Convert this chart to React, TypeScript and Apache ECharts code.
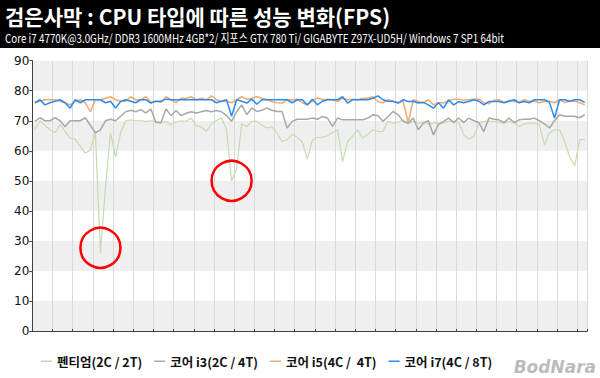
import React, { useEffect, useRef } from "react";
import * as echarts from "echarts";

const titleText = "검은사막 : CPU 타입에 따른 성능 변화(FPS)";
const subtitleText =
  "Core i7 4770K@3.0GHz/ DDR3 1600MHz 4GB*2/ 지포스 GTX 780 Ti/ GIGABYTE Z97X-UD5H/ Windows 7 SP1 64bit";

const seriesNames = ["펜티엄(2C / 2T)", "코어 i3(2C / 4T)", "코어 i5(4C /  4T)", "코어 i7(4C / 8T)"];
const seriesColors = ["#c6dcae", "#a8a8a8", "#f2aa6c", "#2a8cf2"];

const yTicks = [0, 10, 20, 30, 40, 50, 60, 70, 80, 90];

const pentium = [
  67, 70, 68.5, 67, 66, 68.7, 66.5, 64.2, 63.9, 61.5,
  59.2, 60.3, 66, 26, 48, 66, 58, 66, 70, 70.3,
  70, 70, 69.8, 70, 69.8, 69.2, 69.8, 68.7, 69.5, 70,
  69.8, 70.9, 68.3, 68, 66.5, 69, 70, 71, 67, 50,
  54, 69, 68, 69.8, 69.8, 68.5, 67.6, 68, 66, 63.1,
  63.7, 65.5, 64.5, 63, 57.3, 63.5, 64.5, 64.5, 65, 66,
  67, 56.4, 63.1, 65, 67, 64.2, 65.5, 67, 66.5, 66.4,
  69.8, 69.2, 69.5, 70.3, 69, 69.8, 69.2, 69.5, 69, 69.2,
  69.2, 69.2, 69.8, 69.8, 69.5, 65.3, 63.9, 64.8, 69.2, 69.8,
  69.8, 69.8, 69.5, 69.2, 69.8, 69.5, 68, 69, 69.2, 69.2,
  68.8, 62, 66, 67, 67, 63.1, 58, 55, 63.7, 63.7,
];

const coreI3 = [
  69.8, 71, 70, 70, 71, 70, 68, 70, 70, 70,
  71, 68.5, 66, 67, 70, 70.5, 70, 71.5, 73, 73.5,
  73, 73.7, 72.6, 73.9, 69.4, 69.4, 73.9, 71.7, 73.4, 71.7,
  72.5, 73, 72.6, 73, 73.4, 73, 73.4, 73, 71.7, 69.8,
  73, 75.3, 72, 74.2, 73.1, 73.5, 74.2, 73.5, 73.1, 73.1,
  67.6, 69.8, 70.5, 70.5, 70.5, 70.9, 70.5, 71.4, 70.9, 68.1,
  70.9, 70.3, 70.3, 70.3, 70.3, 70.3, 70.9, 72, 71.7, 69.8,
  71.4, 73.1, 72, 69.8, 69.2, 70.9, 67, 69.2, 70, 65.3,
  68.7, 69.8, 70.9, 69.4, 70.9, 69.4, 70.9, 70, 69.4, 66.4,
  70.9, 70.5, 70.3, 69.4, 70.9, 69.4, 70.3, 70.5, 70.5, 70.9,
  70, 69, 67.6, 70, 72, 71.5, 71.5, 71.5, 71, 72,
];

const coreI5 = [
  76, 76.5, 77, 77, 77, 76.5, 76, 75.3, 76.5, 77,
  76, 73, 77, 77, 77.5, 78, 77, 76.5, 76.5, 78,
  77, 77, 78, 76.1, 76.5, 76.1, 78, 77, 76, 77.5,
  77.5, 78, 77, 77.5, 77, 78.3, 77, 76.5, 76.4, 76,
  77, 78, 77.2, 77.5, 78, 77.5, 77, 76.4, 76, 75.9,
  77, 77, 77.2, 76, 75.3, 76.5, 77.6, 77, 77.2, 77,
  76.4, 77.5, 77, 77.2, 77, 77.5, 77.5, 78, 76.4, 76,
  77, 76.5, 76, 76.5, 69.3, 77, 76.4, 76, 77, 75.3,
  76, 76, 76.5, 77.2, 77.2, 76.8, 77, 77.2, 77.2, 76,
  75.7, 76.8, 77, 76.1, 76.8, 76.5, 76.1, 77, 76.5, 76.5,
  76, 76.5, 76.5, 76, 77, 76.1, 76.5, 76.5, 76, 75.3,
];

const coreI7 = [
  76, 77, 75.3, 76, 76.5, 77, 76, 74.2, 77, 76,
  77, 77, 77, 77, 76, 76.5, 74.2, 76.4, 77, 76.5,
  76, 77, 77, 75.9, 76.5, 76.5, 77.2, 77, 77, 77,
  77, 77, 77, 77, 77, 77, 76, 76.5, 77, 71.5,
  77, 76.5, 75.9, 77.2, 75.5, 77, 77, 77, 77, 77,
  77, 76, 77, 77, 75.3, 77.2, 75.3, 76.5, 77, 77,
  77, 78, 75.9, 77, 77, 77, 77, 77.5, 78.3, 77,
  76.5, 76.5, 75.9, 77, 76.4, 76.5, 75.9, 76.1, 75.3, 74.2,
  76, 74.2, 77, 75.3, 76.4, 76, 76.4, 77, 76.5, 75.3,
  76.4, 76.4, 76.4, 76, 76.5, 77, 76, 76.4, 76, 77,
  77, 77, 76.1, 70.9, 77, 77, 76.5, 77, 77, 76.1,
];

const categories = pentium.map((_, i) => String(i + 1));

// highlighted drops (category index, value)
const highlights: [number, number][] = [
  [13, 27.7],
  [39, 50],
];

export default function App() {
  const ref = useRef<HTMLDivElement>(null);
  useEffect(() => {
    document.body.style.margin = "0";
    const chart = echarts.init(ref.current!, undefined, { renderer: "svg" });
    const data = [pentium, coreI3, coreI5, coreI7];
    chart.setOption({
      animation: false,
      backgroundColor: "#ffffff",
      grid: { left: 32.3, right: 12.7, top: 60.7, bottom: 47, containLabel: false },
      legend: {
        left: 36,
        top: 350,
        icon: "rect",
        itemWidth: 11,
        itemHeight: 1.5,
        itemGap: 12,
        textStyle: {
          fontFamily: "Noto Sans CJK KR",
          fontWeight: "bold",
          fontSize: 12.5,
          color: "#111",
        },
        data: seriesNames,
      },
      graphic: [
        { type: "rect", shape: { x: 0, y: 0, width: 600, height: 48 }, style: { fill: "#000" } },
        {
          type: "text",
          x: 5,
          y: 5,
          style: {
            text: titleText,
            fill: "#fff",
            font: 'bold 21px "Noto Sans CJK KR"',
            textVerticalAlign: "top",
          },
        },
        {
          type: "text",
          x: 5,
          y: 32,
          scaleX: 0.82,
          style: {
            text: subtitleText,
            fill: "#fff",
            font: '12px "Noto Sans CJK KR"',
            textVerticalAlign: "top",
          },
        },
        {
          type: "text",
          right: 4,
          bottom: 3,
          z: -1,
          style: {
            text: "BodNara",
            fill: "rgba(120,120,120,0.5)",
            font: 'italic bold 17px "DejaVu Sans"',
          },
        },
      ],
      xAxis: {
        type: "category",
        data: categories,
        boundaryGap: true,
        axisLine: { lineStyle: { color: "#404040", width: 1 } },
        axisTick: { show: true, inside: true, length: 2, interval: 3, lineStyle: { color: "#404040" } },
        axisLabel: { show: false, interval: 3 },
        splitLine: { show: true, interval: 3, lineStyle: { color: "#dadada", width: 1 } },
      },
      yAxis: {
        type: "value",
        min: 0,
        max: 90,
        interval: 10,
        axisLine: { show: true, lineStyle: { color: "#404040", width: 1 } },
        axisTick: { show: true, length: 3, lineStyle: { color: "#404040" } },
        axisLabel: {
          margin: 3,
          color: "#111",
          fontFamily: "DejaVu Sans",
          fontSize: 12,
          formatter: (v: number) => (yTicks.includes(v) ? String(v) : ""),
        },
        splitLine: { show: false },
        splitArea: { show: true, areaStyle: { color: ["#efefef", "#ffffff"] } },
      },
      series: data.map((d, k) => ({
        name: seriesNames[k],
        type: "line",
        data: d,
        symbol: "none",
        showSymbol: false,
        lineStyle: { color: seriesColors[k], width: k === 0 ? 1.2 : 1.5 },
        itemStyle: { color: seriesColors[k] },
        z: 2 + k,
        markPoint:
          k === 0
            ? {
                symbol: "circle",
                symbolSize: 40,
                silent: true,
                label: { show: false },
                itemStyle: { color: "rgba(0,0,0,0)", borderColor: "#ff0000", borderWidth: 2.5 },
                data: highlights.map(([i, v]) => ({ coord: [i, v] })),
              }
            : undefined,
      })),
    });
    return () => chart.dispose();
  }, []);
  return (
    <div
      ref={ref}
      style={{ position: "fixed", left: 0, top: 0, width: 600, height: 378 }}
    />
  );
}
